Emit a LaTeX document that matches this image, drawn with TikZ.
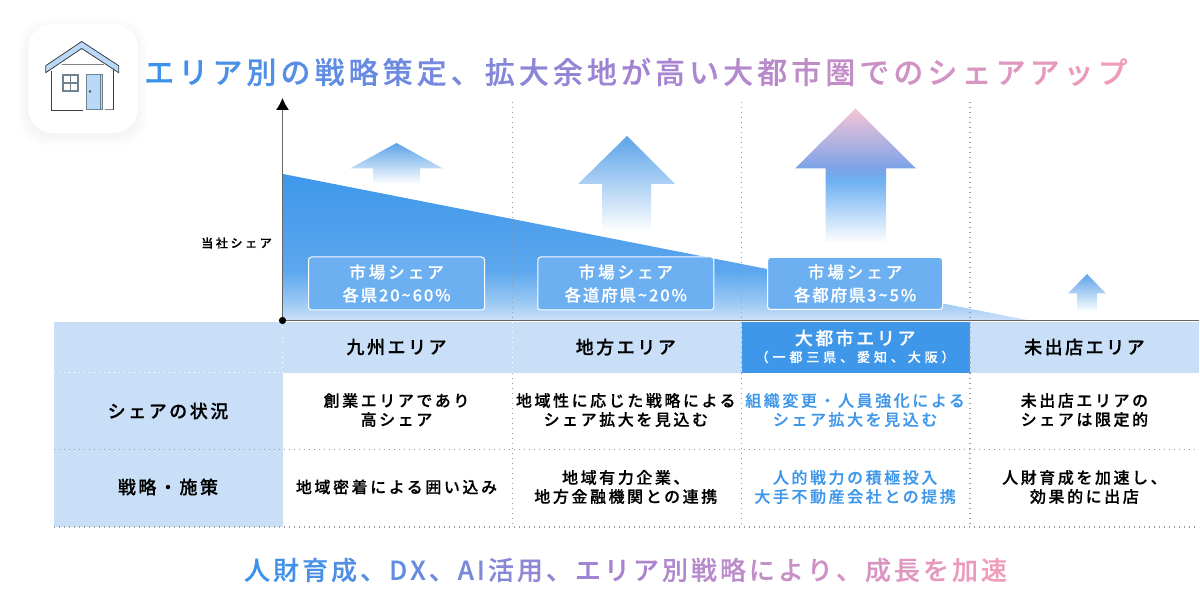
\documentclass[tikz,border=0pt]{standalone}
\usepackage{fontspec}
\usepackage{xcolor}
\setmainfont{Noto Sans CJK JP Medium}
\usetikzlibrary{positioning,arrows.meta,calc}

\definecolor{paleblue}{HTML}{C9DFF8}
\definecolor{strongblue}{HTML}{3F97EA}
\definecolor{boxblue}{HTML}{6CB0F2}
\definecolor{arrowblue}{HTML}{5CA3E8}
\definecolor{gradblue}{HTML}{3A92EA}
\definecolor{gradpurple}{HTML}{A283D2}
\definecolor{gradpink}{HTML}{F09DBA}
\definecolor{axisgray}{HTML}{666666}
\definecolor{dotgray}{HTML}{9C9C9C}
\definecolor{housegray}{HTML}{70828F}
\definecolor{houseline}{HTML}{3A3F45}
\definecolor{roofblue}{HTML}{BAD8F7}

\pgfdeclareverticalshading{wedgefade}{100bp}{color(0bp)=(paleblue!95!white); color(25bp)=(paleblue!95!white); color(31.8bp)=(strongblue!55!white); color(42bp)=(strongblue!85!white); color(75bp)=(strongblue); color(100bp)=(strongblue)}
\pgfdeclareverticalshading{arrowfade}{100bp}{color(0bp)=(white); color(25bp)=(white); color(75bp)=(arrowblue); color(100bp)=(arrowblue)}
\pgfdeclareverticalshading{pinkfade}{100bp}{color(0bp)=(white); color(25bp)=(white); color(48.4bp)=(boxblue); color(52.7bp)=(gradpurple!30!boxblue); color(75bp)=(gradpink!60!white); color(100bp)=(gradpink!60!white)}

% one colour per character, blue to purple to pink
\newcommand{\gradline}[3]{%
  \foreach \ch [count=\k] in {#3}{%
    \pgfmathsetmacro{\gradt}{100*(\k-1)/(#1-1)}%
    \pgfmathparse{\gradt<50 ? 1 : 0}%
    \ifnum\pgfmathresult=1
      \pgfmathsetmacro{\gradp}{2*\gradt}%
      \textcolor{gradpurple!\gradp!gradblue}{\ch}%
    \else
      \pgfmathsetmacro{\gradp}{2*\gradt-100}%
      \textcolor{gradpink!\gradp!gradpurple}{\ch}%
    \fi
    \hspace{#2}%
  }%
}
% second line of a share box, set tighter
\newcommand{\shareline}[1]{{\addfontfeatures{LetterSpace=11,FakeBold=0.3}#1}}

\begin{document}
\begin{tikzpicture}[x=1pt, y=-1pt, >=latex, node distance=229.3pt]

% Define styles
\tikzstyle{areatext} = [inner sep=0pt, align=center, text=black, font=\fontsize{18}{21}\selectfont\addfontfeatures{LetterSpace=14,FakeBold=0.5}]
\tikzstyle{celltext} = [inner sep=0pt, align=center, text=black, font=\fontsize{16}{19}\selectfont\addfontfeatures{LetterSpace=16,FakeBold=0.4}]
\tikzstyle{bluetext} = [celltext, text=strongblue]
\tikzstyle{sharebox} = [draw=white, line width=1pt, rounded corners=3pt, fill=boxblue, minimum width=176pt, minimum height=53pt, inner sep=0pt, align=center, text=white, font=\fontsize{16.5}{23}\selectfont\addfontfeatures{LetterSpace=18,FakeBold=0.3}]
\tikzstyle{griddot} = [dotgray, line width=1.4pt, dash pattern=on 1.4pt off 3.6pt]
\tikzstyle{whitedot} = [griddot, white]
\tikzstyle{axisline} = [axisgray, line width=1pt]

\useasboundingbox (0,0) rectangle (1200,593);

% Icon
\foreach \s in {9,7,5,3,1}
  \fill[black, opacity=0.008, rounded corners=27pt] (28-\s,24-\s+4) rectangle (138+\s,133+\s+4);
\fill[white, rounded corners=25pt] (28,24) rectangle (138,133);
\filldraw[fill=roofblue, draw=houseline, line width=0.8pt, line join=round] (81.7,41.5) -- (118.7,65.7) -- (118.7,72.7) -- (81.7,48.5) -- (45.7,72.7) -- (45.7,65.7) -- cycle;
\draw[axisgray!80, line width=1.2pt] (61.7,64.5) -- (104,64.5);
\draw[houseline, line width=0.9pt] (51,71.5) -- (51,110) -- (82.7,110);
\draw[houseline, line width=0.9pt] (113.3,69.5) -- (113.3,110);
\draw[axisgray!80, line width=1pt] (105,110) -- (112.5,110);
\filldraw[fill=white, draw=housegray, line width=2pt] (62.8,75.2) rectangle (77.8,91);
\draw[housegray, line width=1.6pt] (70.3,75.2) -- (70.3,91) (62.8,83.1) -- (77.8,83.1);
\filldraw[fill=roofblue, draw=housegray, line width=1pt] (86,74.8) rectangle (102.2,110);
\draw[housegray, line width=0.8pt] (100,74.8) -- (100,110);
\draw[houseline, line width=0.5pt] (90,91.5) circle (1pt);

% Title
\node[inner sep=0pt, font=\fontsize{30}{34}\selectfont\addfontfeatures{FakeBold=0.4}] (title) at (636,72)
  {\gradline{29}{4.05pt}{エ,リ,ア,別,の,戦,略,策,定,、,拡,大,余,地,が,高,い,大,都,市,圏,で,の,シ,ェ,ア,ア,ッ,プ}};

% Table background
\fill[paleblue] (54,322) rectangle (1199,373);
\fill[paleblue] (54,373) rectangle (283,527);
\fill[strongblue] (741.5,322) rectangle (970,373);

% Chart
\shade[shading=wedgefade] (283,174) -- (1027,320) -- (283,320) -- cycle;
\shade[shading=arrowfade] (396.5,143) -- (443,168.5) -- (420,168.5) -- (420,184) -- (373,184) -- (373,168.5) -- (350,168.5) -- cycle;
\shade[shading=arrowfade] (627,136) -- (675,184) -- (651,184) -- (651,232) -- (602,232) -- (602,184) -- (578,184) -- cycle;
\shade[shading=pinkfade] (855.5,108.5) -- (916,168.5) -- (886,168.5) -- (886,243) -- (825.5,243) -- (825.5,168.5) -- (795,168.5) -- cycle;
\shade[shading=arrowfade] (1087,274) -- (1106,293.5) -- (1097,293.5) -- (1097,312) -- (1077,312) -- (1077,293.5) -- (1068,293.5) -- cycle;

% Grid
\coordinate (orig) at (282.5,320.5);
\coordinate (ytop) at (282.5,98);
\coordinate (xend) at (1199,320.5);
\foreach \gx in {512.5,741.5,970}{
  \draw[griddot] (\gx,102) -- (\gx,320);
  \draw[griddot] (\gx,373) -- (\gx,527);
}
\draw[whitedot] (512.5,322) -- (512.5,373);
\draw[whitedot] (282.5,322) -- (282.5,373);
\draw[griddot] (741.5,322) -- (741.5,373);
\draw[griddot] (970,322) -- (970,373);
\draw[whitedot] (54,372.5) -- (283,372.5);
\draw[griddot] (54,449.5) -- (1199,449.5);
\draw[griddot] (54,527) -- (1199,527);

% Axes
\draw[axisline] (orig) -- (xend);
\draw[axisline, -{Latex[black,length=12pt,width=13pt]}] (orig) -- (ytop);
\fill[black] (orig) circle (3.6pt);
\node[inner sep=0pt, font=\fontsize{12}{14}\selectfont\addfontfeatures{LetterSpace=22,FakeBold=0.4}] (ylab) at (236.5,243) {当社シェア};

% Share boxes
\node[sharebox] (box1) at (396.5,283.5) {市場シェア\\\shareline{各県20\textasciitilde60\%}};
\node[sharebox, right of=box1] (box2) {市場シェア\\\shareline{各道府県\textasciitilde20\%}};
\node[sharebox, right of=box2, minimum width=175pt, minimum height=52pt] (box3) {市場シェア\\\shareline{各都府県3\textasciitilde5\%}};

% Header row
\node[areatext] (area1) at (396.5,347) {九州エリア};
\node[areatext, right of=area1] (area2) {地方エリア};
\coordinate[right of=area2] (area3);
\node[areatext, text=white, anchor=center] (area3a) at ($(area3)+(0,-9)$) {大都市エリア};
\node[inner sep=0pt, text=white, font=\fontsize{13}{15}\selectfont\addfontfeatures{LetterSpace=30,FakeBold=0.3}] (area3b) at ($(area3)+(0,10)$) {（一都三県、愛知、大阪）};
\node[areatext, right of=area3] (area4) {未出店エリア};

% Row heads
\node[areatext] (head1) at (168,411) {シェアの状況};
\node[areatext, below of=head1, node distance=76pt] (head2) {戦略・施策};

% Share row
\node[celltext] (cell11) at (396.5,410) {創業エリアであり\\高シェア};
\node[celltext, right of=cell11] (cell12) {地域性に応じた戦略による\\シェア拡大を見込む};
\node[bluetext, right of=cell12] (cell13) {組織変更・人員強化による\\シェア拡大を見込む};
\node[celltext, right of=cell13] (cell14) {未出店エリアの\\シェアは限定的};

% Strategy row
\node[celltext, below of=cell11, node distance=77pt] (cell21) {地域密着による囲い込み};
\node[celltext, right of=cell21] (cell22) {地域有力企業、\\地方金融機関との連携};
\node[bluetext, right of=cell22] (cell23) {人的戦力の積極投入\\大手不動産会社との提携};
\node[celltext, right of=cell23] (cell24) {人財育成を加速し、\\効果的に出店};

% Bottom line
\node[inner sep=0pt, font=\fontsize{26}{30}\selectfont\addfontfeatures{FakeBold=0.4}] (bottom) at (625.5,570)
  {\gradline{28}{3pt}{人,財,育,成,、,D,X,、,A,I,活,用,、,エ,リ,ア,別,戦,略,に,よ,り,、,成,長,を,加,速}};

\end{tikzpicture}
\end{document}
